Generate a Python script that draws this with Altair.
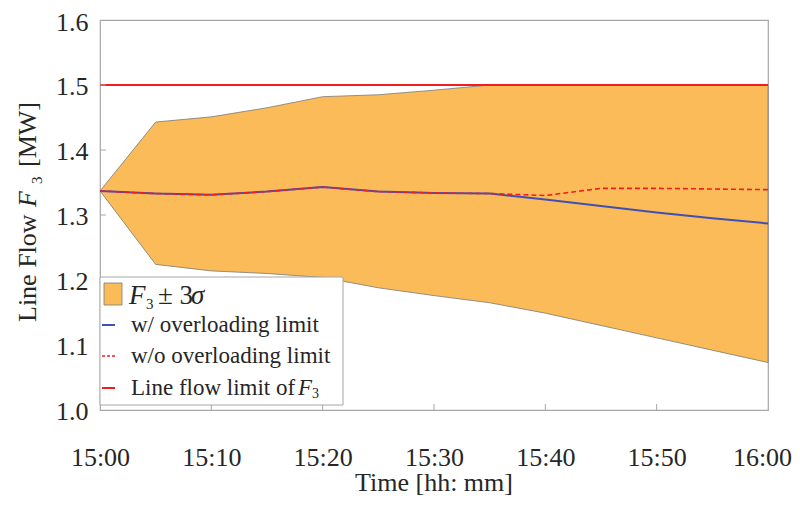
import altair as alt
import pandas as pd

# ---- data ----
minutes = [0, 5, 10, 15, 20, 25, 30, 35, 40, 45, 50, 55, 60]
band_upper = [1.337, 1.443, 1.451, 1.465, 1.482, 1.485, 1.492, 1.500, 1.500, 1.500, 1.500, 1.500, 1.500]
band_lower = [1.337, 1.224, 1.214, 1.210, 1.204, 1.188, 1.176, 1.165, 1.149, 1.130, 1.111, 1.092, 1.073]
with_limit = [1.337, 1.333, 1.331, 1.336, 1.343, 1.336, 1.334, 1.333, 1.324, 1.314, 1.304, 1.295, 1.287]
without_limit = [1.337, 1.333, 1.331, 1.336, 1.343, 1.336, 1.334, 1.333, 1.330, 1.341, 1.341, 1.340, 1.339]
flow_limit = 1.5

x_tick_values = [0, 10, 20, 30, 40, 50, 60]
x_tick_labels = ["15:00", "15:10", "15:20", "15:30", "15:40", "15:50", "16:00"]
y_tick_values = [1.0, 1.1, 1.2, 1.3, 1.4, 1.5, 1.6]

FONT = "Liberation Serif"
ORANGE = "#FABB58"
BLUE = "#4050B4"
RED = "#F01E23"
FRAME = "#A6A6A6"
TXT = "#262626"

df = pd.DataFrame({
    "m": minutes, "upper": band_upper, "lower": band_lower,
    "w": with_limit, "wo": without_limit,
})

xs = alt.Scale(domain=[0, 60], nice=False)
ys = alt.Scale(domain=[1.0, 1.6], nice=False, zero=False)

label_expr = "[" + ",".join("'%s'" % s for s in x_tick_labels) + "][round(datum.value/10)]"

common = dict(ticks=False, domain=False, grid=False, labelFont=FONT, labelFontSize=26,
              labelColor=TXT, labelFlush=False, title=None)
x_axis = alt.Axis(values=x_tick_values, labelExpr=label_expr, labelPadding=34,
                  labelOffset={"condition": {"test": "datum.value == 60", "value": -6}, "value": 0},
                  **common)
y_axis = alt.Axis(values=y_tick_values, format=".1f", labelPadding=12,
                  labelOffset={"condition": {"test": "datum.value >= 1.59", "value": 2}, "value": 1},
                  **common)

base = alt.Chart(df)

band = base.mark_area(color=ORANGE, stroke="#7a7a7a", strokeWidth=0.8, opacity=1).encode(
    x=alt.X("m:Q", scale=xs, axis=x_axis),
    y=alt.Y("upper:Q", scale=ys, axis=y_axis),
    y2="lower:Q",
)

line_w = base.mark_line(color=BLUE, strokeWidth=2).encode(
    x=alt.X("m:Q", scale=xs, axis=x_axis), y=alt.Y("w:Q", scale=ys, axis=y_axis))
line_wo = base.mark_line(color=RED, strokeWidth=1.6, strokeDash=[5, 3]).encode(
    x=alt.X("m:Q", scale=xs, axis=x_axis), y=alt.Y("wo:Q", scale=ys, axis=y_axis))

limit = alt.Chart(pd.DataFrame({"v": [flow_limit]})).mark_rule(color=RED, strokeWidth=2).encode(
    y=alt.Y("v:Q", scale=ys, axis=y_axis))

# inward ticks
yt = alt.Chart(pd.DataFrame({"v": y_tick_values[1:-1]})).mark_rule(color=FRAME, strokeWidth=1).encode(
    y=alt.Y("v:Q", scale=ys, axis=y_axis), x=alt.value(0), x2=alt.value(6))
xt = alt.Chart(pd.DataFrame({"v": x_tick_values[1:-1]})).mark_rule(color=FRAME, strokeWidth=1).encode(
    x=alt.X("v:Q", scale=xs, axis=x_axis), y=alt.value(390), y2=alt.value(384))

one = alt.Chart(pd.DataFrame({"a": [0]}))

# y-axis title pieces
def ytxt(text, y, x=-72, size=26, style="normal"):
    return one.mark_text(text=text, angle=270, align="left", baseline="middle", font=FONT,
                         fontSize=size, fontStyle=style, color=TXT).encode(
        x=alt.value(x), y=alt.value(y))

ytitle = [
    ytxt("Line Flow", 302),
    ytxt("F", 187, style="italic"),
    ytxt("3", 164, x=-63, size=15),
    ytxt("[MW]", 147),
]

# x-axis title
xtitle = one.mark_text(text="Time [hh: mm]", align="center", baseline="alphabetic", font=FONT,
                       fontSize=26, color=TXT).encode(x=alt.value(334), y=alt.value(471))

# legend
box = one.mark_rect(fill="white", stroke=FRAME, strokeWidth=1).encode(
    x=alt.value(0), x2=alt.value(243), y=alt.value(257), y2=alt.value(385))
swatch = one.mark_rect(fill=ORANGE, stroke="#7a7a7a", strokeWidth=0.8).encode(
    x=alt.value(4), x2=alt.value(22), y=alt.value(263), y2=alt.value(285))
def ltxt(text, x, y, size=23, style="normal", baseline="middle"):
    return one.mark_text(text=text, align="left", baseline=baseline, font=FONT, fontSize=size,
                         fontStyle=style, color=TXT).encode(x=alt.value(x), y=alt.value(y))
leg = [
    box, swatch,
    ltxt("F", 29, 284, size=27, style="italic", baseline="alphabetic"),
    ltxt("3", 46, 289, size=15, baseline="alphabetic"),
    ltxt("\u00b1 3", 58, 284, size=27, baseline="alphabetic"),
    ltxt("\u03c3", 91, 284, size=27, style="italic", baseline="alphabetic"),
    one.mark_rule(color=BLUE, strokeWidth=2).encode(x=alt.value(2), x2=alt.value(15), y=alt.value(305)),
    one.mark_rule(color=RED, strokeWidth=1.6, strokeDash=[3, 2]).encode(x=alt.value(2), x2=alt.value(15), y=alt.value(336)),
    one.mark_rule(color=RED, strokeWidth=2).encode(x=alt.value(2), x2=alt.value(15), y=alt.value(368)),
    ltxt("w/ overloading limit", 31, 305),
    ltxt("w/o overloading limit", 31, 336),
    ltxt("Line flow limit of", 31, 368),
    ltxt("F", 198, 368, style="italic"),
    ltxt("3", 212, 374, size=14),
]

chart = alt.layer(band, line_w, line_wo, limit, yt, xt, *ytitle, xtitle, *leg).properties(
    width=668, height=390,
    background="white",
    autosize=alt.AutoSizeParams(type="none"),
    padding={"left": 92, "top": 12, "right": 24, "bottom": 88},
).configure_view(stroke=FRAME, strokeWidth=1.2).configure_axis(
    ticks=False, domain=False, grid=False,
    labelFont=FONT, labelFontSize=26, labelColor=TXT,
)

chart.save("out.html", embed_options={"renderer": "svg", "actions": False})
